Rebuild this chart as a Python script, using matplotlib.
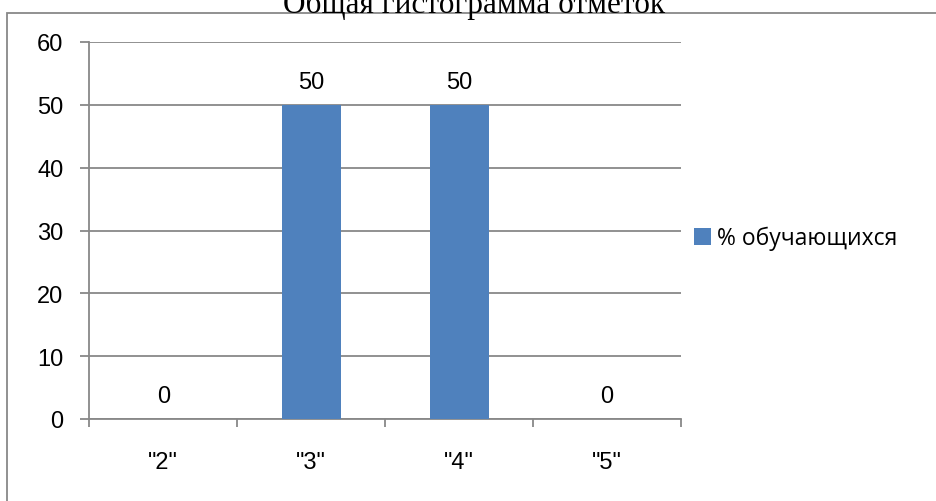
import matplotlib
matplotlib.use("Agg")
import matplotlib.pyplot as plt
from matplotlib.patches import Rectangle, Patch

# ---------------------------------------------------------------- data
categories = ['"2"', '"3"', '"4"', '"5"']
percent_students = [0, 50, 50, 0]
series_name = "% обучающихся"
title_text = "Общая гистограмма отметок"
y_ticks = [0, 10, 20, 30, 40, 50, 60]

bar_color = "#4F81BD"
grid_color = "#888888"
num_font = ["Liberation Sans", "DejaVu Sans"]
leg_font = ["Open Sans", "DejaVu Sans"]
num_size = 17

fig = plt.figure(figsize=(9.37, 5.02), dpi=100)
ax = fig.add_axes([89.3 / 937, 1 - 420 / 502, (681 - 89.3) / 937, (420 - 43) / 502])

x = list(range(len(categories)))
ax.bar(x, percent_students, width=0.4, color=bar_color, zorder=3)

# data labels, baseline 17px above the bar top
for xi, v in zip(x, percent_students):
    ax.annotate(str(v), (xi, v), xytext=(0, 12.2), textcoords="offset points",
                ha="center", va="baseline", fontsize=num_size, family=num_font)

ax.set_xlim(-0.5, len(categories) - 0.5)
ax.set_ylim(0, 60)
ax.set_yticks(y_ticks)
ax.set_yticklabels([str(t) for t in y_ticks], fontsize=num_size, family=num_font)
ax.yaxis.grid(True, color=grid_color, linewidth=1.3, zorder=0)

# category boundaries as x ticks, labels in between
ax.set_xticks([i - 0.5 for i in range(len(categories) + 1)])
ax.set_xticklabels([])
ax.set_xticks(x, minor=True)
ax.set_xticklabels(categories, minor=True, fontsize=num_size, family=num_font)
ax.tick_params(axis="x", which="minor", length=0, pad=23)
ax.tick_params(axis="x", which="major", length=6, color=grid_color, width=1.3)
ax.tick_params(axis="y", length=6.5, color=grid_color, width=1.3, pad=12)

for side in ["top", "right"]:
    ax.spines[side].set_visible(False)
for side in ["left", "bottom"]:
    ax.spines[side].set_color(grid_color)
    ax.spines[side].set_linewidth(1.3)

# legend
handle = Patch(facecolor=bar_color, edgecolor="none")
fig.legend([handle], [series_name], loc="center left",
           bbox_to_anchor=(673 / 937, 1 - 239 / 502), frameon=False,
           prop={"family": leg_font, "size": 16.5},
           handlelength=0.75, handleheight=0.75, handletextpad=0.25)

# chart frame (partially visible)
fig.patches.append(Rectangle((7 / 937, -0.1), 1.2, 1 - 14 / 502 + 0.1,
                             transform=fig.transFigure, fill=False,
                             edgecolor=grid_color, linewidth=1.3))

# title, cut off at the top edge
fig.text(474 / 937, 1 - 12.5 / 502, title_text, ha="center", va="baseline",
         fontsize=22.5, family="Liberation Serif")

fig.savefig("out.png", dpi=100)
